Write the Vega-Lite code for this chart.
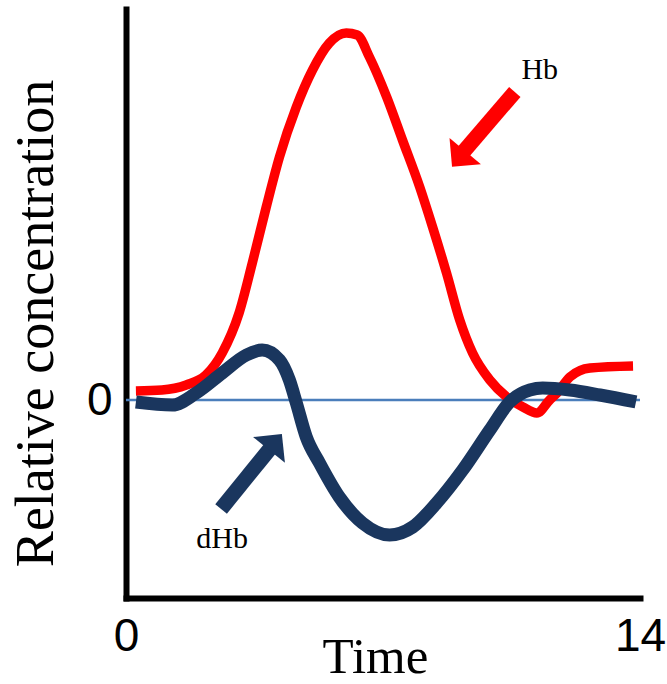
{
  "$schema": "https://vega.github.io/schema/vega-lite/v6.json",
  "width": 514,
  "height": 589,
  "autosize": {"type": "none"},
  "padding": {"left": 126, "top": 9, "right": 27, "bottom": 86},
  "background": "white",
  "config": {"view": {"stroke": null}},
  "datasets": {
    "curves": [
      {"s": "Hb", "t": 0.27, "v": 0.09},
      {"s": "Hb", "t": 0.98, "v": 0.10},
      {"s": "Hb", "t": 1.64, "v": 0.15},
      {"s": "Hb", "t": 2.18, "v": 0.25},
      {"s": "Hb", "t": 2.62, "v": 0.47},
      {"s": "Hb", "t": 3.08, "v": 0.87},
      {"s": "Hb", "t": 3.44, "v": 1.37},
      {"s": "Hb", "t": 3.82, "v": 1.93},
      {"s": "Hb", "t": 4.18, "v": 2.43},
      {"s": "Hb", "t": 4.64, "v": 2.93},
      {"s": "Hb", "t": 5.08, "v": 3.30},
      {"s": "Hb", "t": 5.54, "v": 3.57},
      {"s": "Hb", "t": 6.00, "v": 3.67},
      {"s": "Hb", "t": 6.30, "v": 3.65},
      {"s": "Hb", "t": 6.63, "v": 3.43},
      {"s": "Hb", "t": 7.10, "v": 3.03},
      {"s": "Hb", "t": 7.53, "v": 2.60},
      {"s": "Hb", "t": 8.00, "v": 2.13},
      {"s": "Hb", "t": 8.35, "v": 1.73},
      {"s": "Hb", "t": 8.73, "v": 1.27},
      {"s": "Hb", "t": 9.09, "v": 0.80},
      {"s": "Hb", "t": 9.44, "v": 0.47},
      {"s": "Hb", "t": 9.91, "v": 0.20},
      {"s": "Hb", "t": 10.37, "v": 0.03},
      {"s": "Hb", "t": 10.81, "v": -0.07},
      {"s": "Hb", "t": 11.19, "v": -0.13},
      {"s": "Hb", "t": 11.54, "v": 0.00},
      {"s": "Hb", "t": 11.74, "v": 0.07},
      {"s": "Hb", "t": 12.09, "v": 0.23},
      {"s": "Hb", "t": 12.64, "v": 0.32},
      {"s": "Hb", "t": 13.81, "v": 0.34},
      {"s": "dHb", "t": 0.27, "v": -0.02},
      {"s": "dHb", "t": 1.26, "v": -0.05},
      {"s": "dHb", "t": 1.91, "v": 0.07},
      {"s": "dHb", "t": 2.62, "v": 0.27},
      {"s": "dHb", "t": 3.28, "v": 0.45},
      {"s": "dHb", "t": 3.71, "v": 0.50},
      {"s": "dHb", "t": 4.18, "v": 0.40},
      {"s": "dHb", "t": 4.45, "v": 0.20},
      {"s": "dHb", "t": 4.64, "v": -0.03},
      {"s": "dHb", "t": 4.91, "v": -0.37},
      {"s": "dHb", "t": 5.27, "v": -0.63},
      {"s": "dHb", "t": 5.81, "v": -0.97},
      {"s": "dHb", "t": 6.44, "v": -1.23},
      {"s": "dHb", "t": 7.18, "v": -1.35},
      {"s": "dHb", "t": 7.81, "v": -1.27},
      {"s": "dHb", "t": 8.46, "v": -1.03},
      {"s": "dHb", "t": 9.17, "v": -0.70},
      {"s": "dHb", "t": 9.91, "v": -0.30},
      {"s": "dHb", "t": 10.45, "v": -0.02},
      {"s": "dHb", "t": 11.00, "v": 0.10},
      {"s": "dHb", "t": 11.35, "v": 0.12},
      {"s": "dHb", "t": 12.09, "v": 0.10},
      {"s": "dHb", "t": 12.91, "v": 0.05},
      {"s": "dHb", "t": 13.89, "v": -0.02}
    ],
    "arrows": [
      {"s": "Hb", "x": 10.59, "y": 3.08, "x2": 9.14, "y2": 2.46, "hx": 9.06, "hy": 2.41},
      {"s": "dHb", "x": 2.59, "y": -1.09, "x2": 3.96, "y2": -0.47, "hx": 4.07, "hy": -0.42}
    ],
    "labels": [
      {"s": "Hb", "x": 11.27, "y": 3.21},
      {"s": "dHb", "x": 2.62, "y": -1.48}
    ],
    "zero": [{"x": 0, "x2": 14, "y": 0}]
  },
  "layer": [
    {
      "data": {"name": "zero"},
      "mark": {"type": "rule", "color": "#4a7ebb", "strokeWidth": 2.5},
      "encoding": {
        "x": {
          "field": "x", "type": "quantitative",
          "scale": {"domain": [0, 14], "nice": false, "zero": false},
          "axis": {
            "values": [0, 14], "format": "d", "ticks": false, "grid": false,
            "domainColor": "black", "domainWidth": 6, "domainCap": "square",
            "labelFont": "Liberation Sans", "labelFontSize": 46, "labelColor": "black",
            "labelPadding": 16, "labelFlush": false,
            "title": "Time", "titleFont": "Liberation Serif", "titleFontSize": 51,
            "titleFontWeight": "normal", "titleColor": "black",
            "titleX": 249, "titleY": 74, "titleAlign": "center", "titleBaseline": "alphabetic"
          }
        },
        "x2": {"field": "x2"},
        "y": {
          "field": "y", "type": "quantitative",
          "scale": {"domain": [-1.98, 3.91], "nice": false, "zero": false},
          "axis": {
            "values": [0], "format": "d", "ticks": false, "grid": false,
            "domainColor": "black", "domainWidth": 6, "domainCap": "square",
            "labelFont": "Liberation Sans", "labelFontSize": 46, "labelColor": "black",
            "labelPadding": 14, "labelFlush": false,
            "title": "Relative concentration", "titleFont": "Liberation Serif", "titleFontSize": 54,
            "titleFontWeight": "normal", "titleColor": "black",
            "titleAngle": -90, "titleX": -74, "titleY": 314, "titleAlign": "center", "titleBaseline": "alphabetic"
          }
        }
      }
    },
    {
      "data": {"name": "curves"},
      "transform": [{"filter": "datum.s === 'Hb'"}],
      "mark": {"type": "line", "interpolate": "monotone", "strokeWidth": 9.5, "strokeCap": "butt", "strokeJoin": "round"},
      "encoding": {
        "x": {"field": "t", "type": "quantitative"},
        "y": {"field": "v", "type": "quantitative"},
        "color": {"field": "s", "type": "nominal", "scale": {"domain": ["Hb", "dHb"], "range": ["#ff0000", "#1a365e"]}, "legend": null}
      }
    },
    {
      "data": {"name": "curves"},
      "transform": [{"filter": "datum.s === 'dHb'"}],
      "mark": {"type": "line", "interpolate": "monotone", "strokeWidth": 13, "strokeCap": "butt", "strokeJoin": "round"},
      "encoding": {
        "x": {"field": "t", "type": "quantitative"},
        "y": {"field": "v", "type": "quantitative"},
        "color": {"field": "s", "type": "nominal", "legend": null}
      }
    },
    {
      "data": {"name": "arrows"},
      "mark": {"type": "rule", "strokeWidth": 15, "strokeCap": "butt"},
      "encoding": {
        "x": {"field": "x", "type": "quantitative"},
        "y": {"field": "y", "type": "quantitative"},
        "x2": {"field": "x2"},
        "y2": {"field": "y2"},
        "color": {"field": "s", "type": "nominal", "legend": null}
      }
    },
    {
      "data": {"name": "arrows"},
      "transform": [{"filter": "datum.s === 'Hb'"}],
      "mark": {"type": "point", "shape": "M-1,0.5L0,-0.5L1,0.5Z", "size": 1681, "filled": true, "opacity": 1, "angle": 220, "strokeWidth": 0},
      "encoding": {
        "x": {"field": "hx", "type": "quantitative"},
        "y": {"field": "hy", "type": "quantitative"},
        "color": {"field": "s", "type": "nominal", "legend": null}
      }
    },
    {
      "data": {"name": "arrows"},
      "transform": [{"filter": "datum.s === 'dHb'"}],
      "mark": {"type": "point", "shape": "M-1,0.5L0,-0.5L1,0.5Z", "size": 1681, "filled": true, "opacity": 1, "angle": 39, "strokeWidth": 0},
      "encoding": {
        "x": {"field": "hx", "type": "quantitative"},
        "y": {"field": "hy", "type": "quantitative"},
        "color": {"field": "s", "type": "nominal", "legend": null}
      }
    },
    {
      "data": {"name": "labels"},
      "mark": {"type": "text", "font": "Liberation Serif", "fontSize": 30, "color": "black", "align": "center", "baseline": "alphabetic"},
      "encoding": {
        "x": {"field": "x", "type": "quantitative"},
        "y": {"field": "y", "type": "quantitative"},
        "text": {"field": "s"}
      }
    }
  ]
}
